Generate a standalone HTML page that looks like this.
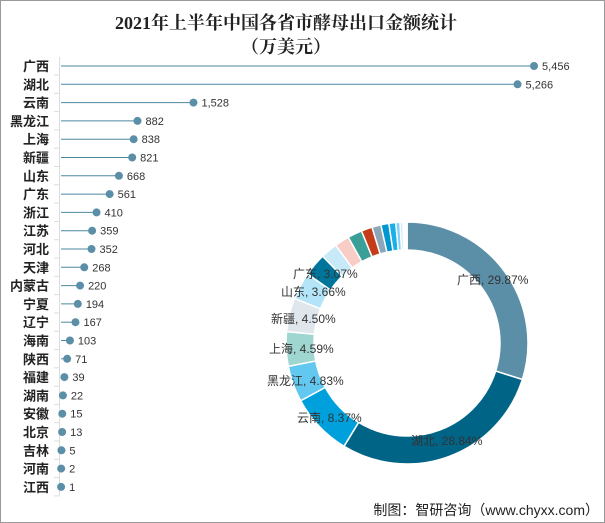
<!DOCTYPE html>
<html><head><meta charset="utf-8"><style>
body{margin:0;background:#fff;}
#c{position:relative;width:603px;height:521px;border:1px solid #999;overflow:hidden;font-family:"Liberation Sans","Noto Sans CJK SC",sans-serif;}
</style></head><body><div id="c">
<svg id="s" width="603" height="521" xmlns="http://www.w3.org/2000/svg" style="position:absolute;left:0;top:0">
<text x="285" y="28" text-anchor="middle" font-family="Liberation Serif,Noto Serif CJK SC,serif" font-weight="bold" font-size="18" fill="#222">2021年上半年中国各省市酵母出口金额统计</text>
<text x="285" y="52" text-anchor="middle" font-family="Liberation Serif,Noto Serif CJK SC,serif" font-weight="bold" font-size="18" fill="#222">（万美元）</text>
<line x1="58.5" y1="56" x2="58.5" y2="494" stroke="#ddd"/>
<g id="bars"></g><g id="donut"></g>
<text x="598" y="514" text-anchor="end" font-size="14" fill="#222">制图：智研咨询（www.chyxx.com）</text>
</svg></div>
<script>
const d=[["广西",5456],["湖北",5266],["云南",1528],["黑龙江",882],["上海",838],["新疆",821],["山东",668],["广东",561],["浙江",410],["江苏",359],["河北",352],["天津",268],["内蒙古",220],["宁夏",194],["辽宁",167],["海南",103],["陕西",71],["福建",39],["湖南",22],["安徽",15],["北京",13],["吉林",5],["河南",2],["江西",1]];
let h="";
d.forEach((r,i)=>{const y=65+i*18.3;const x=60+r[1]*0.0867;
h+=`<line x1="53" y1="${y+9}" x2="59" y2="${y+9}" stroke="#ddd"/><text x="48" y="${y+5}" text-anchor="end" font-size="13" font-weight="bold" fill="#222">${r[0]}</text><line x1="60" y1="${y}" x2="${x}" y2="${y}" stroke="#4e87a0" stroke-width="1"/><circle cx="${x}" cy="${y}" r="4" fill="#5b8fa8"/><text x="${x+8}" y="${y+4}" font-size="11" fill="#333">${r[1].toLocaleString('en-US')}</text>`;});
document.getElementById("bars").innerHTML=h;
const cols=["#5b8fa8","#006487","#00a0dc","#63c8f0","#9fd6d0","#dfe6ec","#b3e4f8","#00759c","#c8eaf8","#f7cdc6","#3a9f96","#c43c1a","#8aa6b8","#0096d0","#1aafe6","#7fd3f5","#cdeefb","#a9dff5","#e0f4fc","#8fd0ee","#d5eef8","#bfe6f7","#e8f6fc","#f0f9fd"];
const tot=d.reduce((a,b)=>a+b[1],0);const cx=406,cy=342,R=121,r=93;let a=0,p="";
d.forEach((v,i)=>{const a2=a+v[1]/tot*2*Math.PI;const P=(t,rr)=>[cx+rr*Math.sin(t),cy-rr*Math.cos(t)];const lg=a2-a>Math.PI?1:0;
const [x1,y1]=P(a,R),[x2,y2]=P(a2,R),[x3,y3]=P(a2,r),[x4,y4]=P(a,r);
p+=`<path d="M${x1} ${y1}A${R} ${R} 0 ${lg} 1 ${x2} ${y2}L${x3} ${y3}A${r} ${r} 0 ${lg} 0 ${x4} ${y4}Z" fill="${cols[i]}" stroke="#fff" stroke-width="1.5"/>`;a=a2;});
const L=[["广西, 29.87%",456,283],["湖北, 28.84%",410,444],["云南, 8.37%",296,421],["黑龙江, 4.83%",266,384],["上海, 4.59%",268,352],["新疆, 4.50%",270,322],["山东, 3.66%",280,295],["广东, 3.07%",292,277]];
L.forEach(l=>p+=`<text x="${l[1]}" y="${l[2]}" font-size="12" fill="#333">${l[0]}</text>`);
document.getElementById("donut").innerHTML=p;
</script></body></html>
